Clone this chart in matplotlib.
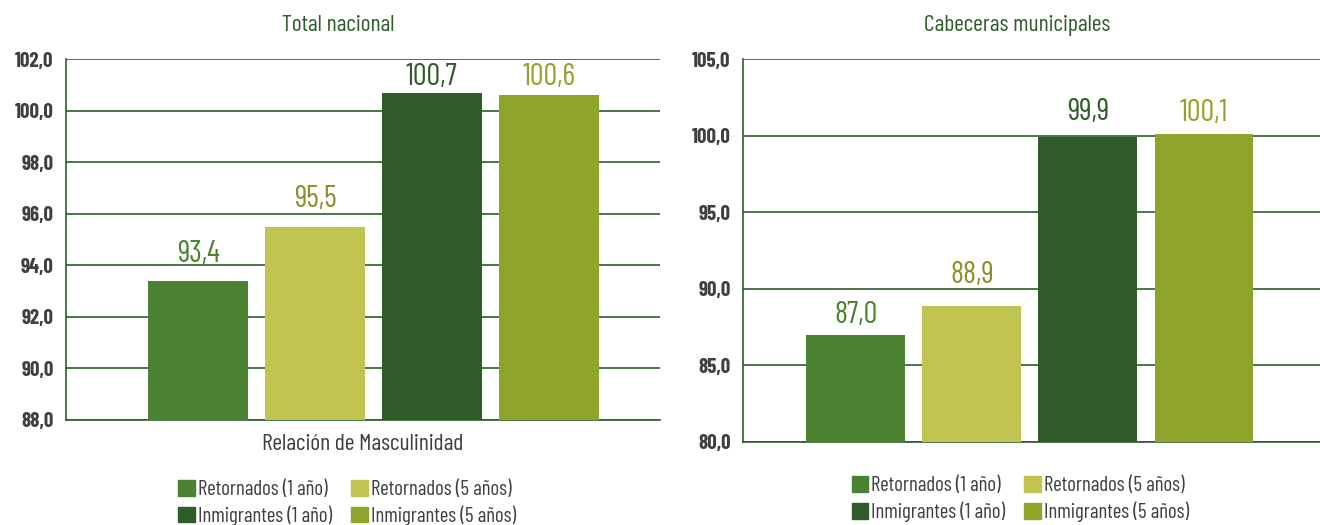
import matplotlib
matplotlib.use("Agg")
import matplotlib.pyplot as plt
from matplotlib.patches import Patch

# ---- data ----
series = ["Retornados (1 año)", "Retornados (5 años)", "Inmigrantes (1 año)", "Inmigrantes (5 años)"]
total_nacional = [93.4, 95.5, 100.7, 100.6]
cabeceras = [87.0, 88.9, 99.9, 100.1]
yticks_left = [88, 90, 92, 94, 96, 98, 100, 102]
yticks_right = [80, 85, 90, 95, 100, 105]

bar_colors = ["#4a8232", "#c2c452", "#2f5c28", "#8fa42b"]
label_colors = ["#4a8232", "#8c8f2c", "#2f5c28", "#8fa42b"]
grid_color = "#2e5e2a"
text_gray = "#3f3f3f"

plt.rcParams["font.family"] = ["Barlow Condensed", "DejaVu Sans"]


def fmt(v):
    return f"{v:.1f}".replace(".", ",")


def draw(ax, values, ticks, pads, title, title_x, xlim):
    x = list(range(len(values)))
    bars = ax.bar(x, values, width=0.85, color=bar_colors, zorder=3)
    ax.set_ylim(ticks[0], ticks[-1])
    ax.set_xlim(*xlim)
    ax.set_yticks(ticks)
    ax.set_yticklabels([fmt(t) for t in ticks], fontsize=15, fontweight="bold", color=text_gray)
    ax.set_xticks([])
    ax.yaxis.grid(True, color=grid_color, linewidth=1.2, zorder=0)
    ax.tick_params(axis="y", length=0, pad=9)
    for s in ["top", "right"]:
        ax.spines[s].set_visible(False)
    for s in ["left", "bottom"]:
        ax.spines[s].set_color(grid_color)
        ax.spines[s].set_linewidth(1.2)
    for b, v, c, p in zip(bars, values, label_colors, pads):
        ax.annotate(fmt(v), (b.get_x() + b.get_width() / 2, v), xytext=(0, p),
                    textcoords="offset points", ha="center", va="bottom",
                    fontsize=22, color=c)
    ax.set_title(title, fontsize=17, color=grid_color, pad=20, x=title_x)


fig = plt.figure(figsize=(13.2, 5.25), dpi=100)
ax1 = fig.add_axes([0.05, 0.2, 0.45, 0.6876])
ax2 = fig.add_axes([0.5629, 0.1581, 0.4371, 0.7295])

draw(ax1, total_nacional, yticks_left, [9, 10, 1, 3], "Total nacional", 0.458, (-1.13, 3.95))
draw(ax2, cabeceras, yticks_right, [4, 12, 8, 5], "Cabeceras municipales", 0.475, (-0.97, 4.0))

ax1.set_xlabel("Relación de Masculinidad", fontsize=17, color=text_gray, labelpad=10)

order = [0, 2, 1, 3]
handles = [Patch(color=bar_colors[i], label=series[i]) for i in order]
for loc_x, loc_y in [(0.263, 0.106), (0.773, 0.113)]:
    fig.legend(handles=handles, loc="upper center", bbox_to_anchor=(loc_x, loc_y),
               ncol=2, frameon=False, fontsize=15, handlelength=0.8, handleheight=0.8,
               handletextpad=0.15, columnspacing=0.9, labelspacing=0.3,
               labelcolor=text_gray, borderpad=0)

fig.savefig("out.png", dpi=100)
